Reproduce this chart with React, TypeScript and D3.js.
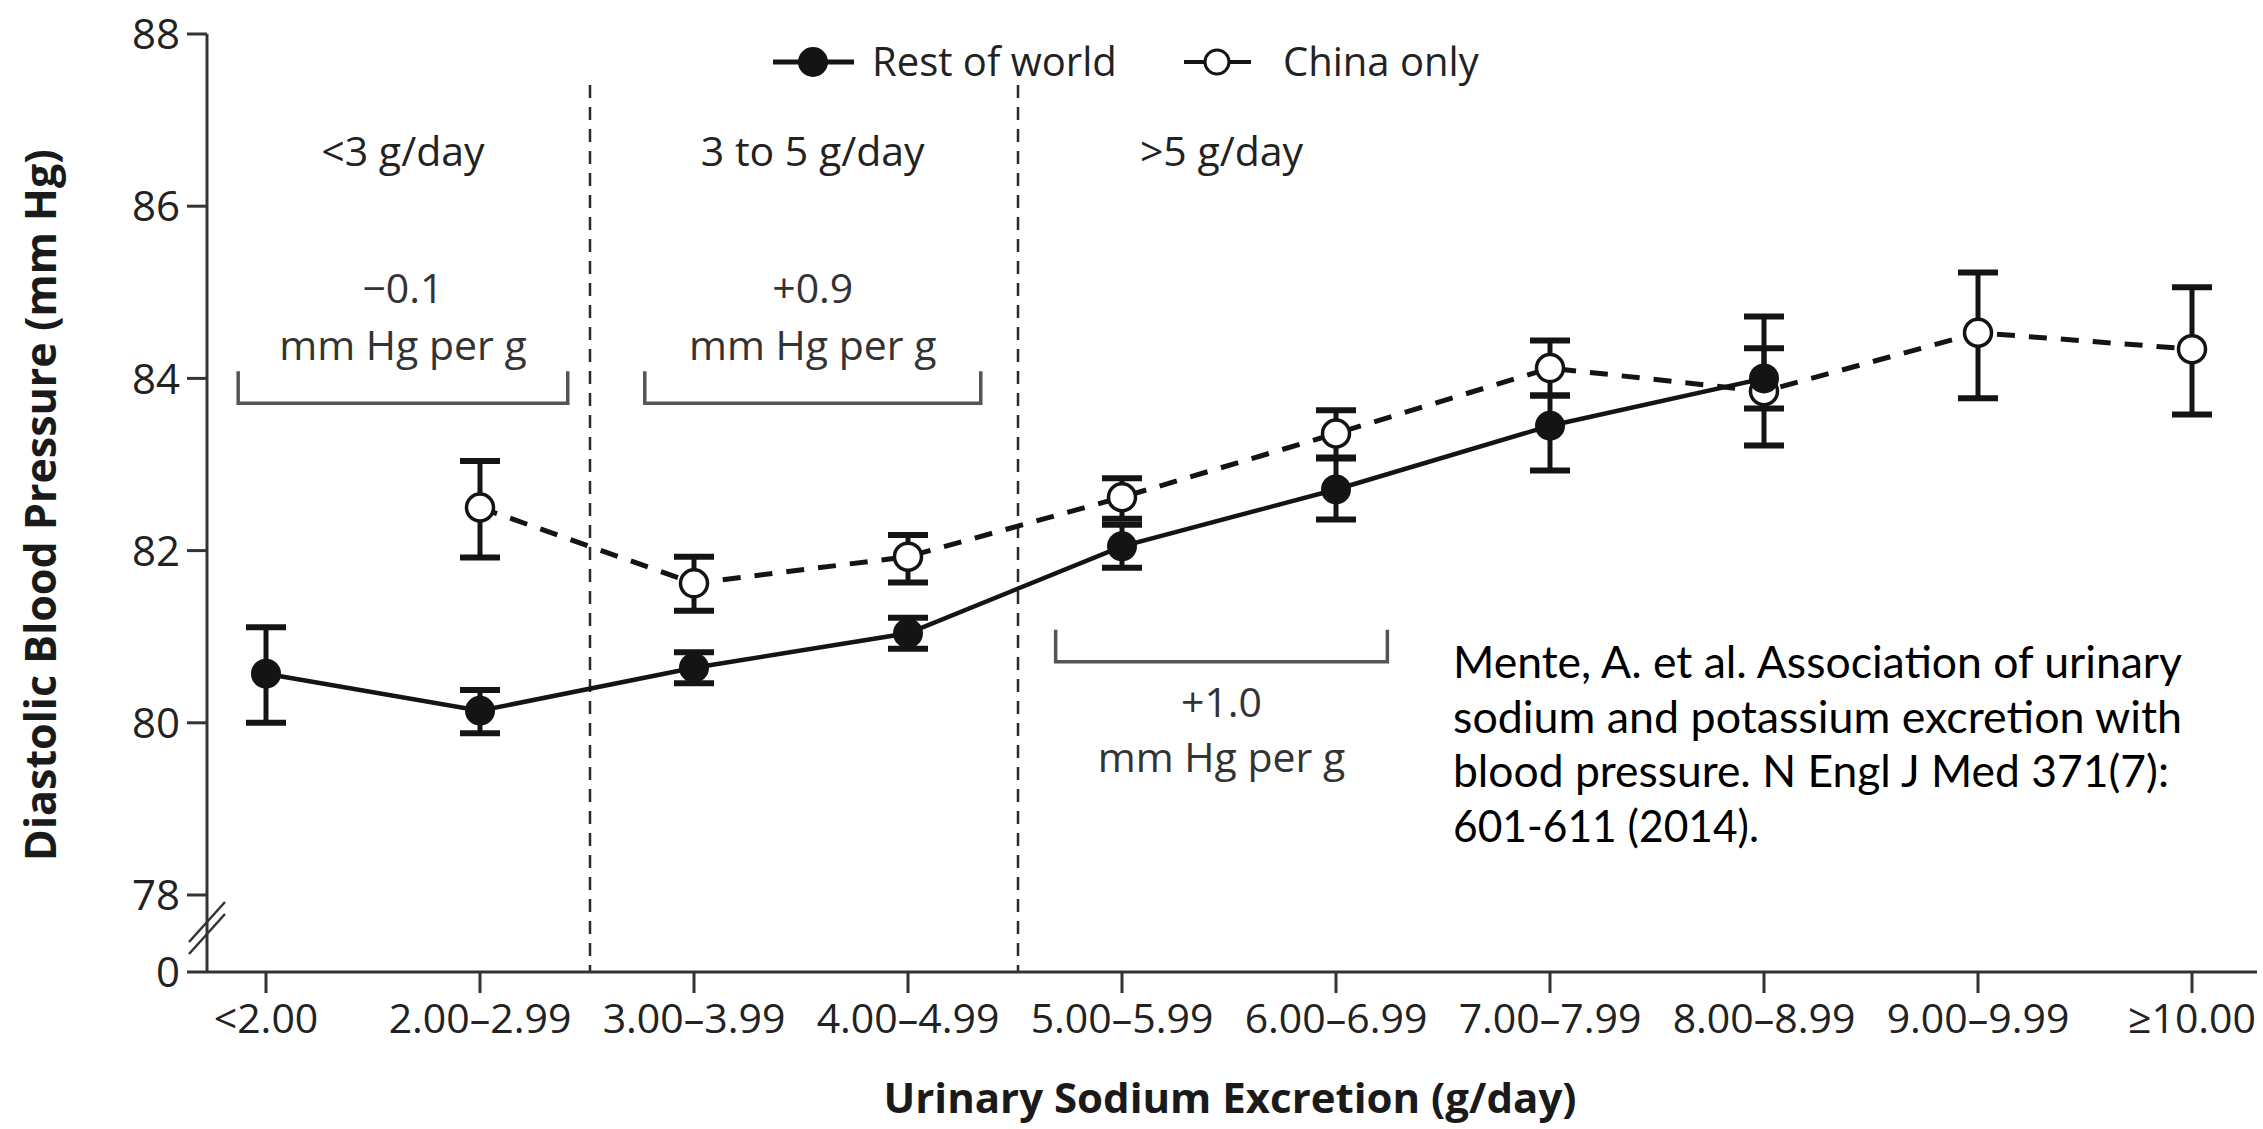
import React from 'react';
import * as d3 from 'd3';

const categories = ["<2.00", "2.00–2.99", "3.00–3.99", "4.00–4.99", "5.00–5.99", "6.00–6.99", "7.00–7.99", "8.00–8.99", "9.00–9.99", "≥10.00"];

const restCats = categories.slice(0, 8);
const restMean = [80.57, 80.14, 80.64, 81.04, 82.05, 82.71, 83.45, 84.0];
const restLow = [80.0, 79.88, 80.46, 80.86, 81.8, 82.36, 82.93, 83.65];
const restHigh = [81.11, 80.38, 80.82, 81.22, 82.3, 83.07, 83.8, 84.35];

const chinaCats = categories.slice(1);
const chinaMean = [82.5, 81.62, 81.93, 82.62, 83.36, 84.12, 83.85, 84.53, 84.34];
const chinaLow = [81.92, 81.3, 81.63, 82.37, 83.08, 83.8, 83.22, 83.77, 83.58];
const chinaHigh = [83.04, 81.93, 82.18, 82.84, 83.63, 84.44, 84.72, 85.23, 85.06];

const yTicks = [78, 80, 82, 84, 86, 88];
const zeroLabel = "0";

const regionLabels = ["<3 g/day", "3 to 5 g/day", ">5 g/day"];
const slopeValues = ["−0.1", "+0.9", "+1.0"];
const slopeUnit = "mm Hg per g";
// bracket extents expressed in category-index units
const bracketStart = [-0.13, 1.77, 3.69];
const bracketEnd = [1.41, 3.34, 5.24];
const bracketLevel = [83.71, 83.71, 80.71];
const bracketLabelBelow = [false, false, true];
// region separators lie between these category pairs
const separatorPairs = [[1, 2], [3, 4]];

const legendLabels = ["Rest of world", "China only"];
const xTitle = "Urinary Sodium Excretion (g/day)";
const yTitle = "Diastolic Blood Pressure (mm Hg)";
const citationLines = [
  "Mente, A. et al.  Association of urinary",
  "sodium and potassium excretion with",
  "blood pressure. N Engl J Med 371(7):",
  "601-611 (2014).",
];
const citationWidths = [729, 729, 716, 306];

const W = 2263;
const H = 1129;
const FONT = "'Open Sans', 'DejaVu Sans', sans-serif";

export default function App() {
  const axisX = 207;
  const baseY = 972;
  const x = d3.scalePoint<string>().domain(categories).range([266, 2192]);
  const step = x.step();
  const xIdx = (i: number) => (x(categories[0]) as number) + i * step;
  const y = d3.scaleLinear().domain([78, 88]).range([895, 34]);

  const restData = restCats.map((c, i) => ({ c, m: restMean[i], lo: restLow[i], hi: restHigh[i] }));
  const chinaData = chinaCats.map((c, i) => ({ c, m: chinaMean[i], lo: chinaLow[i], hi: chinaHigh[i] }));

  const line = d3
    .line<{ c: string; m: number }>()
    .x((d) => x(d.c) as number)
    .y((d) => y(d.m));

  const ink = '#141414';
  const capW = 40;

  const errBars = (data: typeof restData, key: string) =>
    data.map((d, i) => {
      const cx = x(d.c) as number;
      return (
        <g key={key + i} stroke={ink} strokeLinecap="butt">
          <line x1={cx} x2={cx} y1={y(d.hi)} y2={y(d.lo)} strokeWidth={5} />
          <line x1={cx - capW / 2} x2={cx + capW / 2} y1={y(d.hi)} y2={y(d.hi)} strokeWidth={6} />
          <line x1={cx - capW / 2} x2={cx + capW / 2} y1={y(d.lo)} y2={y(d.lo)} strokeWidth={6} />
        </g>
      );
    });

  return (
    <svg
      width={W}
      height={H}
      viewBox={`0 0 ${W} ${H}`}
      style={{ position: 'absolute', left: 0, top: 0, display: 'block', background: '#fff' }}
      fontFamily={FONT}
    >
      <rect x={0} y={0} width={W} height={H} fill="#fff" />

      {/* region separators */}
      {separatorPairs.map(([a, b], i) => {
        const sx = ((x(categories[a]) as number) + (x(categories[b]) as number)) / 2 + 3;
        return (
          <line key={'sep' + i} x1={sx} x2={sx} y1={85} y2={baseY} stroke="#2a2a2a" strokeWidth={2.5} strokeDasharray="13 9" />
        );
      })}

      {/* axes */}
      <line x1={axisX} x2={axisX} y1={y(88)} y2={baseY} stroke="#333" strokeWidth={3} />
      <line x1={187} x2={2257} y1={baseY} y2={baseY} stroke="#333" strokeWidth={3} />
      {yTicks.map((t) => (
        <g key={'yt' + t}>
          <line x1={187} x2={axisX} y1={y(t)} y2={y(t)} stroke="#333" strokeWidth={3} />
          <text x={180} y={y(t)} dy="0.36em" textAnchor="end" fontSize={42} fill="#222">
            {t}
          </text>
        </g>
      ))}
      <text x={180} y={baseY} dy="0.36em" textAnchor="end" fontSize={42} fill="#222">
        {zeroLabel}
      </text>
      {/* axis break marks */}
      {[922, 934].map((cy, i) => (
        <line key={'brk' + i} x1={axisX - 18} y1={cy + 20} x2={axisX + 18} y2={cy - 20} stroke="#333" strokeWidth={2.5} />
      ))}
      {categories.map((c) => (
        <g key={'xt' + c}>
          <line x1={x(c) as number} x2={x(c) as number} y1={baseY} y2={baseY + 21} stroke="#333" strokeWidth={3} />
          <text x={x(c) as number} y={1033} textAnchor="middle" fontSize={41} fill="#222">
            {c}
          </text>
        </g>
      ))}

      {/* axis titles */}
      <text x={1230} y={1113} textAnchor="middle" fontSize={42} fontWeight="bold" fill="#1a1a1a">
        {xTitle}
      </text>
      <text
        transform={`translate(56, 505) rotate(-90)`}
        textAnchor="middle"
        fontSize={43}
        fontWeight="bold"
        fill="#1a1a1a"
      >
        {yTitle}
      </text>

      {/* region labels, brackets and slope annotations */}
      {regionLabels.map((lab, i) => {
        const x1 = xIdx(bracketStart[i]);
        const x2 = xIdx(bracketEnd[i]);
        const cx = (x1 + x2) / 2;
        const by = y(bracketLevel[i]);
        const below = bracketLabelBelow[i];
        return (
          <g key={'reg' + i}>
            <text x={cx} y={166} textAnchor="middle" fontSize={41} fill="#222">
              {lab}
            </text>
            <path
              d={`M${x1},${by - 32} L${x1},${by} L${x2},${by} L${x2},${by - 32}`}
              fill="none"
              stroke="#555"
              strokeWidth={3.5}
            />
            <text x={cx} y={below ? by + 55 : by - 100} textAnchor="middle" fontSize={41} fill="#333">
              {slopeValues[i]}
            </text>
            <text x={cx} y={below ? by + 110 : by - 43} textAnchor="middle" fontSize={41} fill="#333">
              {slopeUnit}
            </text>
          </g>
        );
      })}

      {/* series lines */}
      <path d={line(chinaData) || ''} fill="none" stroke={ink} strokeWidth={5} strokeDasharray="18 14" />
      <path d={line(restData) || ''} fill="none" stroke={ink} strokeWidth={4.5} />

      {/* error bars */}
      {errBars(chinaData, 'ce')}
      {errBars(restData, 're')}

      {/* markers */}
      {chinaData.map((d, i) => (
        <circle key={'cm' + i} cx={x(d.c) as number} cy={y(d.m)} r={13.5} fill="#fff" stroke={ink} strokeWidth={3.5} />
      ))}
      {restData.map((d, i) => (
        <circle key={'rm' + i} cx={x(d.c) as number} cy={y(d.m)} r={15} fill={ink} />
      ))}

      {/* legend */}
      <g>
        <line x1={773} x2={854} y1={62} y2={62} stroke={ink} strokeWidth={5} />
        <circle cx={813} cy={62} r={15} fill={ink} />
        <text x={872} y={62} dy="0.36em" fontSize={40} fill="#222">
          {legendLabels[0]}
        </text>
        <line x1={1184} x2={1251} y1={62} y2={62} stroke={ink} strokeWidth={4} />
        <circle cx={1217} cy={62} r={12} fill="#fff" stroke={ink} strokeWidth={3} />
        <text x={1283} y={62} dy="0.36em" fontSize={40} fill="#222">
          {legendLabels[1]}
        </text>
      </g>

      {/* citation */}
      {citationLines.map((t, i) => (
        <text
          key={'cit' + i}
          x={1453}
          y={678 + i * 54.5}
          fontFamily="Lato, 'Open Sans', sans-serif"
          fontSize={44}
          fill="#000"
          textLength={citationWidths[i]}
          lengthAdjust="spacingAndGlyphs"
        >
          {t}
        </text>
      ))}
    </svg>
  );
}
